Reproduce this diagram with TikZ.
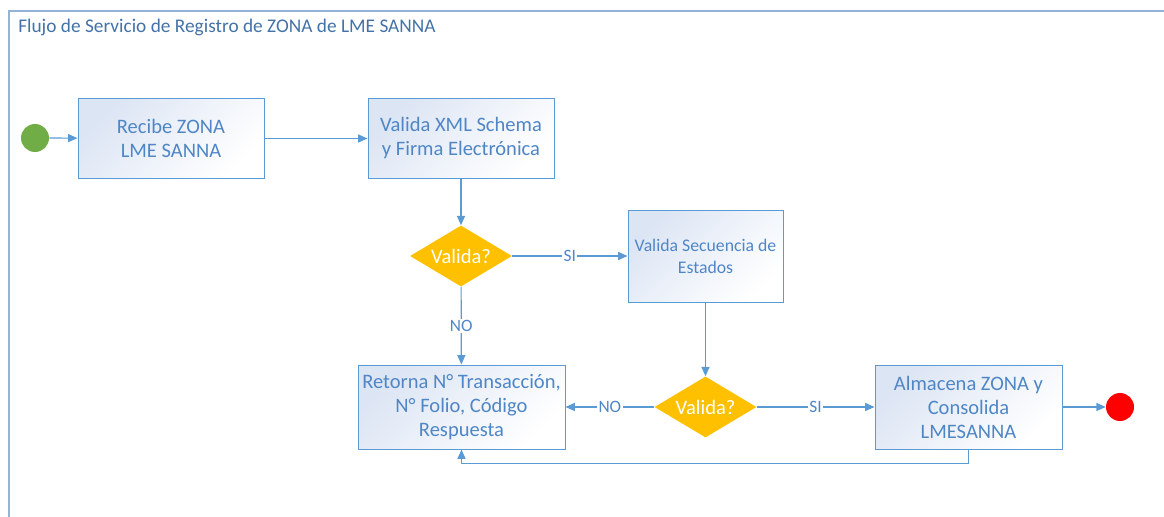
\documentclass[tikz,border=0pt]{standalone}
\usepackage{fontspec}
\setmainfont{Carlito}
\usetikzlibrary{arrows.meta,shapes.geometric}
\definecolor{linea}{HTML}{5B9BD5}
\definecolor{texto}{HTML}{4F86C6}
\definecolor{marco}{HTML}{95B3D7}
\definecolor{relleno}{HTML}{DCE5F4}
\definecolor{decision}{HTML}{FFC000}
\definecolor{inicio}{HTML}{70AD47}
\definecolor{final}{HTML}{FF0000}

\begin{document}
\begin{tikzpicture}[x=0.75pt,y=-0.75pt]
\tikzset{caja/.style={draw=linea,line width=0.75pt,top color=relleno,bottom color=white,shading angle=45,text=texto,align=center,font=\fontsize{15.4}{18}\selectfont,inner sep=2pt},
  rombo/.style={diamond,aspect=1.67,fill=decision,text=white,font=\fontsize{15.4}{18}\selectfont,minimum width=76.5pt,minimum height=45.75pt,inner sep=0pt},
  flecha/.style={draw=linea,line width=0.9pt,-{Triangle[length=7pt,width=6pt]}},
  etiqueta/.style={midway,fill=white,text=texto,inner sep=1pt,font=\fontsize{13}{15}\selectfont}}

\useasboundingbox (0,0) rectangle (1164,517);
\draw[marco,line width=1.5pt] (1164,11) -- (9,11) -- (9,517);
\node[anchor=base west,text=texto!85!black,font=\fontsize{14.5}{17}\selectfont,inner sep=0pt] (titulo) at (18,33) {Flujo de Servicio de Registro de ZONA de LME SANNA};

\node[circle,fill=inicio,minimum size=21pt,inner sep=0pt] (inicio) at (35,138) {};
\node[caja,minimum width=139.5pt,minimum height=59.25pt] (recibe) at (171,138.5) {Recibe ZONA\\LME SANNA};
\node[caja,minimum width=139.5pt,minimum height=59.25pt] (validaxml) at (461,138.5) {Valida XML Schema\\y Firma Electrónica};
\node[rombo] (valida1) at (461,256) {Valida?};
\node[caja,minimum width=116.25pt,minimum height=69pt,font=\fontsize{13.3}{16.5}\selectfont] (secuencia) at (705.5,256) {Valida Secuencia de\\Estados};
\node[caja,minimum width=155.25pt,minimum height=63pt] (retorna) at (461.5,407) {Retorna N° Transacción,\\N° Folio, Código\\Respuesta};
\node[rombo] (valida2) at (705.5,407) {Valida?};
\node[caja,minimum width=140.25pt,minimum height=63pt] (almacena) at (968.5,407) {Almacena ZONA y\\Consolida\\LMESANNA};
\node[circle,fill=final,minimum size=21pt,inner sep=0pt] (fin) at (1120,407) {};

\draw[flecha] (inicio) -- (recibe);
\draw[flecha] (recibe) -- (validaxml);
\draw[flecha] (validaxml) -- (valida1);
\draw[flecha] (valida1) -- node[etiqueta] {SI} (secuencia);
\draw[flecha] (valida1) -- node[etiqueta] {NO} (retorna);
\draw[flecha] (secuencia) -- (valida2);
\draw[flecha] (valida2) -- node[etiqueta] {NO} (retorna);
\draw[flecha] (valida2) -- node[etiqueta] {SI} (almacena);
\draw[flecha] (almacena) -- (fin);
\draw[flecha] (almacena.south) -- ++(0,14) -| (retorna.south);
\end{tikzpicture}
\end{document}
